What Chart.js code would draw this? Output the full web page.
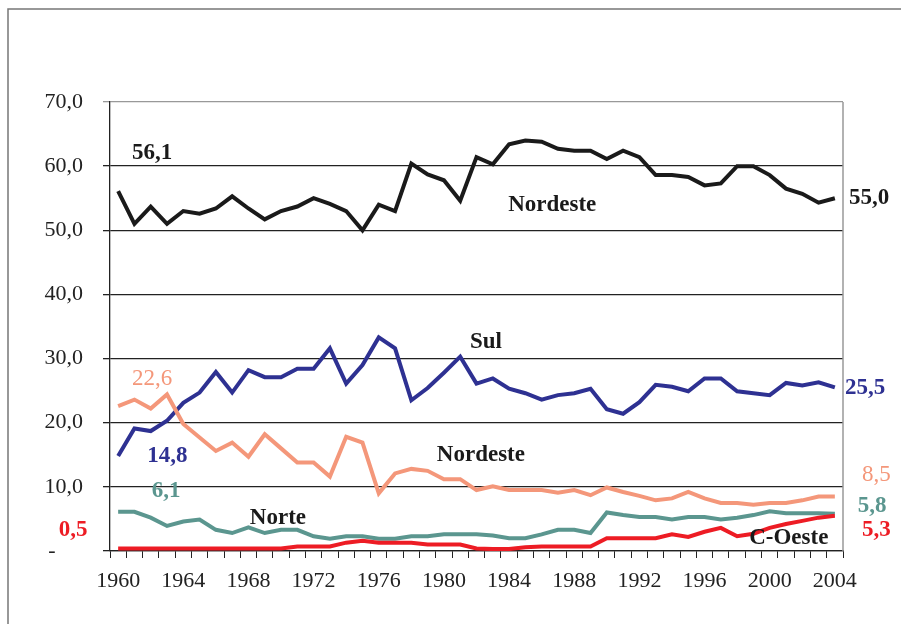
<!DOCTYPE html>
<html>
<head>
<meta charset="utf-8">
<script src="https://cdn.jsdelivr.net/npm/chart.js@4.4.1/dist/chart.umd.min.js"></script>
<style>
  html, body { margin: 0; padding: 0; background: #fff; }
  #wrap { width: 901px; height: 624px; }
</style>
</head>
<body>
<div id="wrap"><canvas id="chart" width="901" height="624"></canvas></div>
<script>
// anos do eixo X
const years = [1960, 1961, 1962, 1963, 1964, 1965, 1966, 1967, 1968, 1969,
    1970, 1971, 1972, 1973, 1974, 1975, 1976, 1977, 1978, 1979,
    1980, 1981, 1982, 1983, 1984, 1985, 1986, 1987, 1988, 1989,
    1990, 1991, 1992, 1993, 1994, 1995, 1996, 1997, 1998, 1999,
    2000, 2001, 2002, 2003, 2004];

// series
const nordesteTop = [56.1, 51.0, 53.7, 51.0, 53.0, 52.6, 53.4, 55.3, 53.4, 51.7,
    53.0, 53.7, 55.0, 54.1, 53.0, 50.0, 54.0, 53.0, 60.4, 58.7,
    57.8, 54.6, 61.4, 60.3, 63.4, 64.0, 63.8, 62.7, 62.4, 62.4,
    61.1, 62.4, 61.4, 58.6, 58.6, 58.3, 57.0, 57.3, 60.0, 60.0,
    58.6, 56.5, 55.7, 54.3, 55.0];
const sul = [14.8, 19.1, 18.7, 20.3, 23.1, 24.7, 27.9, 24.7, 28.2, 27.1,
    27.1, 28.4, 28.4, 31.6, 26.1, 29.0, 33.3, 31.6, 23.5, 25.4,
    27.8, 30.3, 26.1, 26.9, 25.3, 24.6, 23.6, 24.3, 24.6, 25.3,
    22.1, 21.4, 23.2, 25.9, 25.6, 24.9, 26.9, 26.9, 24.9, 24.6,
    24.3, 26.2, 25.8, 26.3, 25.5];
const nordesteLow = [22.6, 23.6, 22.2, 24.4, 19.8, 17.7, 15.6, 16.9, 14.7, 18.2,
    16.0, 13.8, 13.8, 11.6, 17.8, 16.9, 9.0, 12.1, 12.8, 12.5,
    11.2, 11.2, 9.5, 10.1, 9.5, 9.5, 9.5, 9.1, 9.5, 8.7,
    9.9, 9.2, 8.6, 7.9, 8.2, 9.2, 8.2, 7.5, 7.5, 7.2,
    7.5, 7.5, 7.9, 8.5, 8.5];
const norte = [6.1, 6.1, 5.2, 3.9, 4.6, 4.9, 3.3, 2.8, 3.7, 2.8,
    3.3, 3.3, 2.3, 1.9, 2.3, 2.3, 1.9, 1.9, 2.3, 2.3,
    2.6, 2.6, 2.6, 2.4, 2.0, 2.0, 2.6, 3.3, 3.3, 2.8,
    6.0, 5.6, 5.3, 5.3, 4.9, 5.3, 5.3, 4.9, 5.2, 5.6,
    6.2, 5.9, 5.9, 5.9, 5.8];
const cOeste = [0.4, 0.4, 0.4, 0.4, 0.4, 0.4, 0.4, 0.4, 0.4, 0.4,
    0.4, 0.7, 0.7, 0.7, 1.3, 1.6, 1.3, 1.3, 1.3, 1.0,
    1.0, 1.0, 0.4, 0.3, 0.3, 0.6, 0.7, 0.7, 0.7, 0.7,
    2.0, 2.0, 2.0, 2.0, 2.6, 2.2, 3.0, 3.6, 2.3, 2.7,
    3.6, 4.2, 4.7, 5.2, 5.5];

const yTicks = [0, 10, 20, 30, 40, 50, 60, 70];

// rotulos do grafico: texto, indice do ano, valor, cor, negrito, alinhamento
const notes = [
    ['56,1', 2.08, 62.0, '#1a1a1a', true, 'center'],
    ['55,0', 44.87, 55.0, '#1a1a1a', true, 'left'],
    ['Nordeste', 26.65, 53.9, '#1a1a1a', true, 'center'],
    ['Sul', 22.58, 32.6, '#1a1a1a', true, 'center'],
    ['25,5', 44.62, 25.4, '#2e3192', true, 'left'],
    ['22,6', 2.08, 26.8, '#f4977a', false, 'center'],
    ['14,8', 3.03, 14.8, '#2e3192', true, 'center'],
    ['Nordeste', 22.27, 15.0, '#1a1a1a', true, 'center'],
    ['8,5', 45.66, 11.85, '#f4977a', false, 'left'],
    ['6,1', 2.94, 9.35, '#5b968f', true, 'center'],
    ['Norte', 9.81, 5.15, '#1a1a1a', true, 'center'],
    ['5,8', 45.41, 7.0, '#5b968f', true, 'left'],
    ['0,5', -2.77, 3.27, '#ed1c24', true, 'center'],
    ['5,3', 45.66, 3.27, '#ed1c24', true, 'left'],
    ['C-Oeste', 41.17, 2.0, '#1a1a1a', true, 'center']
];

const serif = '"Liberation Serif", "Times New Roman", serif';

// moldura externa e borda direita da area do grafico
const framePlugin = {
    id: 'frame',
    beforeDraw(chart) {
        const ctx = chart.ctx;
        ctx.save();
        ctx.fillStyle = '#fff';
        ctx.fillRect(0, 0, chart.width, chart.height);
        ctx.strokeStyle = '#777';
        ctx.lineWidth = 1.5;
        ctx.beginPath();
        ctx.moveTo(8, chart.height);
        ctx.lineTo(8, 9);
        ctx.lineTo(chart.width, 9);
        ctx.stroke();
        ctx.restore();
    },
    afterDraw(chart) {
        const ctx = chart.ctx;
        const a = chart.chartArea;
        ctx.save();
        ctx.strokeStyle = '#999';
        ctx.lineWidth = 1.5;
        ctx.beginPath();
        ctx.moveTo(a.right, a.top);
        ctx.lineTo(a.right, a.bottom);
        ctx.stroke();
        ctx.restore();
    }
};

const notesPlugin = {
    id: 'notes',
    afterDatasetsDraw(chart) {
        const ctx = chart.ctx;
        const xs = chart.scales.x;
        const ys = chart.scales.y;
        ctx.save();
        ctx.textBaseline = 'middle';
        notes.forEach(n => {
            ctx.font = (n[4] ? 'bold ' : '') + '23px ' + serif;
            ctx.fillStyle = n[3];
            ctx.textAlign = n[5];
            ctx.fillText(n[0], xs.getPixelForValue(n[1]), ys.getPixelForValue(n[2]));
        });
        ctx.restore();
    }
};

function line(label, data, color, order) {
    return {
        label: label,
        data: data,
        borderColor: color,
        borderWidth: 4,
        pointRadius: 0,
        tension: 0,
        fill: false,
        order: order
    };
}

new Chart(document.getElementById('chart'), {
    type: 'line',
    data: {
        labels: years,
        datasets: [
            line('Nordeste', nordesteTop, '#1a1a1a', 4),
            line('Sul', sul, '#2e3192', 3),
            line('Nordeste', nordesteLow, '#f4977a', 2),
            line('Norte', norte, '#5b968f', 1),
            line('C-Oeste', cOeste, '#ed1c24', 0)
        ]
    },
    options: {
        responsive: false,
        animation: false,
        layout: { padding: { left: 0, right: 58, top: 102, bottom: 0 } },
        plugins: {
            legend: { display: false },
            tooltip: { enabled: false }
        },
        scales: {
            x: {
                offset: true,
                grid: {
                    offset: true,
                    drawOnChartArea: false,
                    color: '#222',
                    tickLength: 7
                },
                border: { color: '#222', width: 1.3 },
                ticks: {
                    autoSkip: false,
                    maxRotation: 0,
                    padding: 10,
                    color: '#222',
                    font: { family: serif, size: 22 },
                    callback: function(v, i) {
                        return i % 4 === 0 ? String(years[i]) : '';
                    }
                },
                afterFit: s => { s.height = 73; }
            },
            y: {
                min: 0,
                max: 70,
                afterBuildTicks: s => { s.ticks = yTicks.map(v => ({ value: v })); },
                grid: {
                    color: c => (c.tick && c.tick.value === 70 ? '#999' : '#222'),
                    lineWidth: 1.3,
                    tickLength: 7
                },
                border: { color: '#222', width: 1.3 },
                ticks: {
                    padding: 20,
                    color: '#222',
                    font: { family: serif, size: 22 },
                    callback: v => (v === 0 ? '-     ' : v.toFixed(1).replace('.', ','))
                },
                afterFit: s => { s.width = 110; }
            }
        }
    },
    plugins: [framePlugin, notesPlugin]
});
</script>
</body>
</html>
